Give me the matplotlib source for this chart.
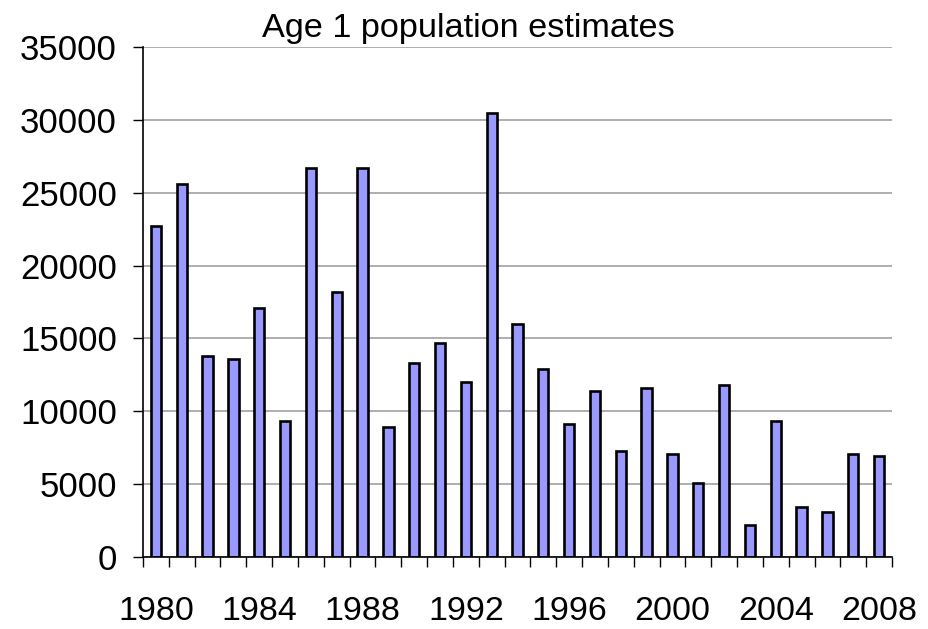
import matplotlib
matplotlib.use("Agg")
import matplotlib.pyplot as plt
import numpy as np

years = list(range(1980, 2009))
estimates = [22700, 25600, 13800, 13600, 17100, 9300, 26700, 18200, 26700, 8900,
             13300, 14700, 12000, 30500, 16000, 12900, 9100, 11400, 7300, 11600,
             7100, 5100, 11800, 2200, 9300, 3400, 3100, 7100, 6900]
label_years = [1980, 1984, 1988, 1992, 1996, 2000, 2004, 2008]
y_ticks = [0, 5000, 10000, 15000, 20000, 25000, 30000, 35000]

plt.rcParams["font.family"] = ["Liberation Sans", "DejaVu Sans"]

fig = plt.figure(figsize=(9.29, 6.29), dpi=100)
ax = fig.add_axes([143 / 929, 1 - 557 / 629, (892 - 143) / 929, (557 - 47) / 629])

x = np.arange(len(years))
ax.bar(x, estimates, width=0.4, color="#9999ff", edgecolor="black", linewidth=1.9, zorder=3)

ax.set_xlim(-0.5, len(years) - 0.5)
ax.set_ylim(0, 35000)
ax.set_yticks(y_ticks)
ax.set_yticklabels([str(v) for v in y_ticks])
ax.yaxis.grid(True, color="#999999", linewidth=1.1, zorder=0)

# tick marks at category boundaries, labels every 4 years
ax.set_xticks(np.arange(len(years) + 1) - 0.5, minor=True)
ax.set_xticks([years.index(y) for y in label_years])
ax.set_xticklabels([str(y) for y in label_years])
ax.tick_params(axis="x", which="minor", length=7.2, width=1, color="black", direction="out")
ax.tick_params(axis="x", which="major", length=0, pad=28, labelsize=24.5)
ax.tick_params(axis="y", length=7.2, width=1, direction="out", pad=11.5, labelsize=25)

for side in ["top", "right"]:
    ax.spines[side].set_visible(False)
for side in ["left", "bottom"]:
    ax.spines[side].set_linewidth(1.2)
    ax.spines[side].set_zorder(4)

fig.text(468 / 929, 1 - 28 / 629, "Age 1 population estimates", ha="center", va="center", fontsize=24.7)

fig.savefig("out.png", dpi=100)
